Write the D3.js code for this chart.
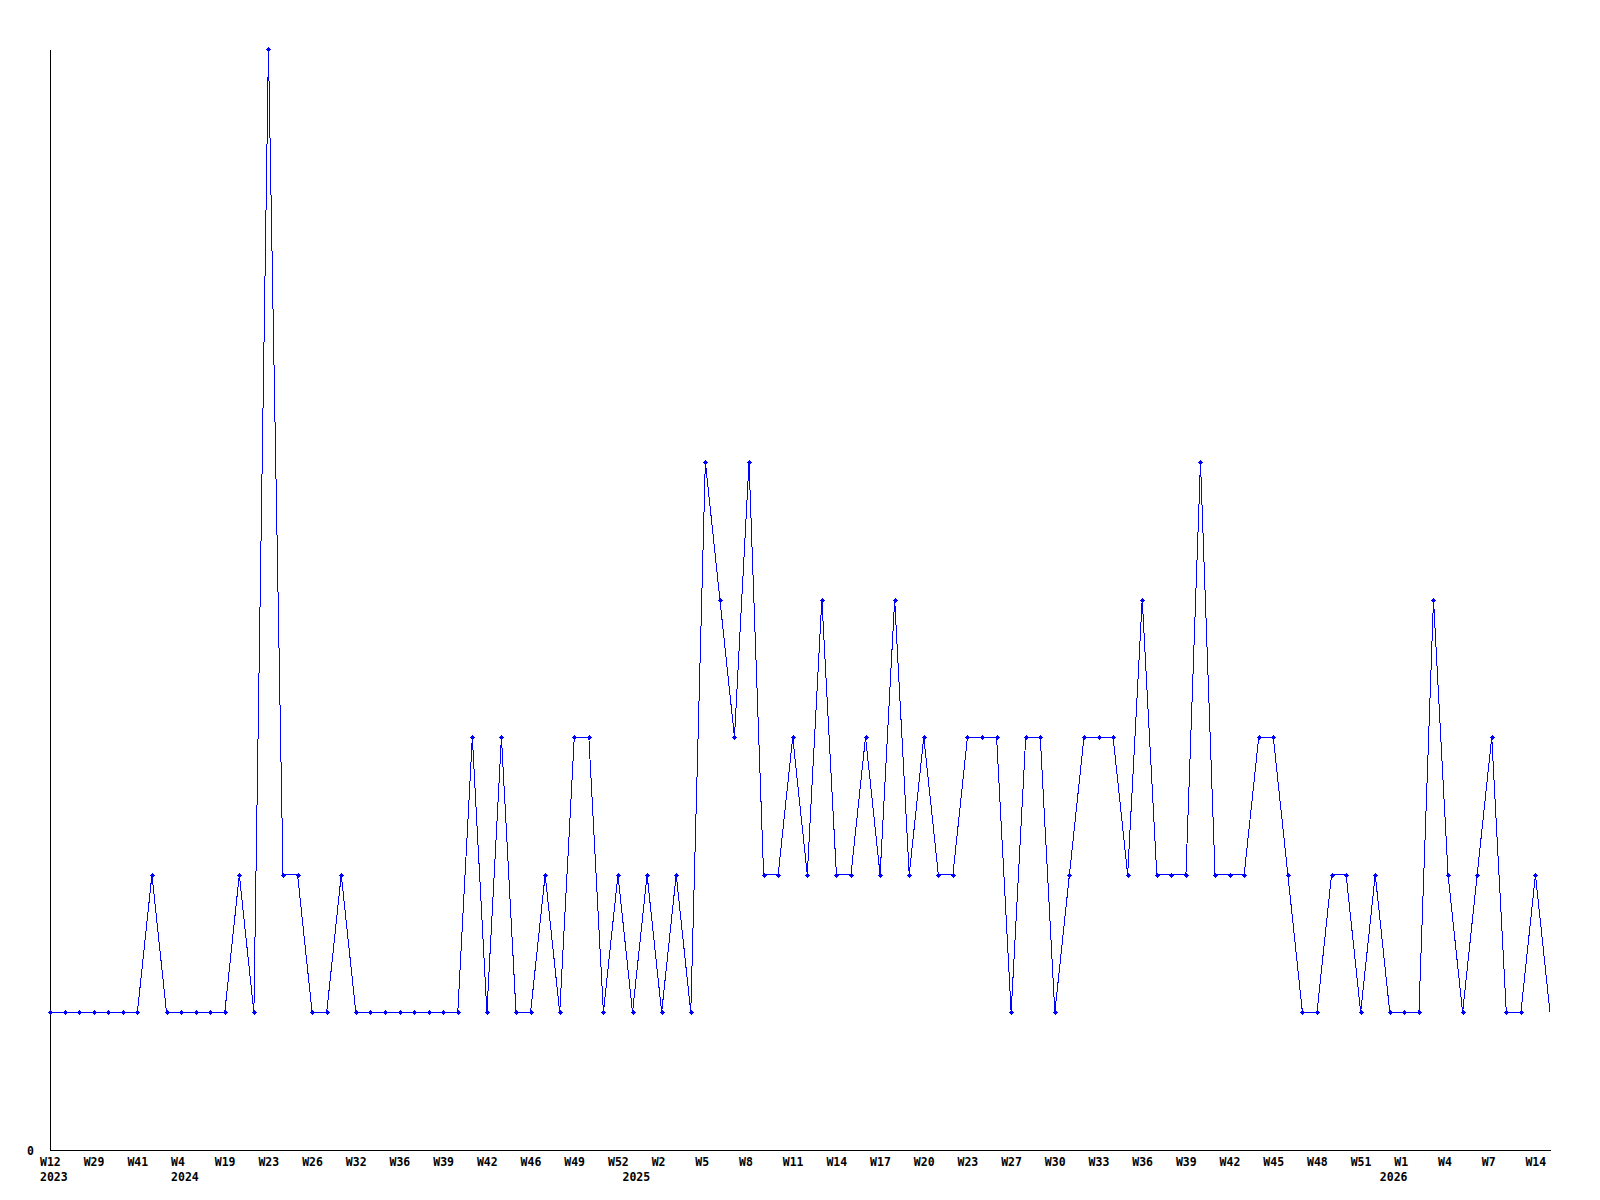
<!DOCTYPE html>
<html lang="en">
<head>
  <meta charset="UTF-8">
  <title>Weekly chart</title>
  <style>
    body { margin: 0; background: #fff; }
    .axis path, .axis line { stroke: #000; }
    .axis text { font-family: "DejaVu Sans Mono", monospace; font-weight: bold; font-size: 11.5px; fill: #000; }
    .line { fill: none; stroke: #0000ff; stroke-width: 1; }
    .mark { stroke: #0000ff; fill: #0000ff; }
  </style>
</head>
<body>
  <div id="chart"></div>

  <script src="https://d3js.org/d3.v7.min.js"></script>
  <script>
    // weekly values, one per row
    const values = [
      1, 1, 1, 1, 1, 1, 1, 2, 1, 1, 1, 1, 1, 2, 1, 8, 2, 2, 1, 1,
      2, 1, 1, 1, 1, 1, 1, 1, 1, 3, 1, 3, 1, 1, 2, 1, 3, 3, 1, 2,
      1, 2, 1, 2, 1, 5, 4, 3, 5, 2, 2, 3, 2, 4, 2, 2, 3, 2, 4, 2,
      3, 2, 2, 3, 3, 3, 1, 3, 3, 1, 2, 3, 3, 3, 2, 4, 2, 2, 2, 5,
      2, 2, 2, 3, 3, 2, 1, 1, 2, 2, 1, 2, 1, 1, 1, 4, 2, 1, 2, 3,
      1, 1, 2, 1
    ];

    // a week label on every third row
    const weekLabels = [
      "W12", "W29", "W41", "W4", "W19", "W23", "W26", "W32", "W36", "W39",
      "W42", "W46", "W49", "W52", "W2", "W5", "W8", "W11", "W14", "W17",
      "W20", "W23", "W27", "W30", "W33", "W36", "W39", "W42", "W45", "W48",
      "W51", "W1", "W4", "W7", "W14"
    ];

    // first row of each year
    const yearLabels = ["2023", "2024", "2025", "2026"];
    const yearRows = [0, 9, 40, 92];

    const width = 1600;
    const height = 1200;

    const svg = d3.select("#chart")
      .append("svg")
      .attr("width", width)
      .attr("height", height)
      .attr("shape-rendering", "crispEdges");

    const x = d3.scaleLinear()
      .domain([0, values.length - 1])
      .range([50, 1550]);

    const y = d3.scaleLinear()
      .domain([0, 8])
      .range([1150, 49]);

    // x axis: week row
    const weekTicks = weekLabels.map((d, i) => i * 3);
    const xAxis = svg.append("g")
      .attr("class", "axis")
      .attr("transform", "translate(0,1150)")
      .call(d3.axisBottom(x)
        .tickValues(weekTicks)
        .tickFormat((d, i) => weekLabels[i])
        .tickSize(0)
        .tickSizeOuter(0));
    xAxis.selectAll("text")
      .attr("text-anchor", "start")
      .attr("dx", -10.5)
      .attr("dy", null)
      .attr("y", 16);

    // year row
    const yearAxis = svg.append("g")
      .attr("class", "axis")
      .attr("transform", "translate(0,1150)")
      .call(d3.axisBottom(x)
        .tickValues(yearRows)
        .tickFormat((d, i) => yearLabels[i])
        .tickSize(0));
    yearAxis.select(".domain").remove();
    yearAxis.selectAll("text")
      .attr("text-anchor", "start")
      .attr("dx", -10.5)
      .attr("dy", null)
      .attr("y", 31);

    // y axis, only zero is labelled
    const yAxis = svg.append("g")
      .attr("class", "axis")
      .attr("transform", "translate(50,0)")
      .call(d3.axisLeft(y)
        .tickValues([0])
        .tickFormat(d3.format("d"))
        .tickSize(0)
        .tickSizeOuter(0));
    yAxis.selectAll("text")
      .attr("x", -23)
      .attr("dy", null)
      .attr("y", 4)
      .attr("text-anchor", "start");

    // line
    svg.append("path")
      .datum(values)
      .attr("class", "line")
      .attr("d", d3.line()
        .x((d, i) => x(i))
        .y(d => y(d)));

    // markers (the last, partial week has none)
    const marks = svg.append("g").selectAll("g")
      .data(values.slice(0, values.length - 1))
      .join("g")
      .attr("class", "mark")
      .attr("transform", (d, i) => `translate(${Math.round(x(i))},${Math.round(y(d))})`);
    marks.append("path")
      .attr("d", "M-2.5,0H2.5M0,-2.5V2.5")
      .attr("stroke-width", 1);
    marks.append("rect")
      .attr("x", -1.5)
      .attr("y", -1.5)
      .attr("width", 3)
      .attr("height", 3)
      .attr("stroke", "none");
  </script>
</body>
</html>
